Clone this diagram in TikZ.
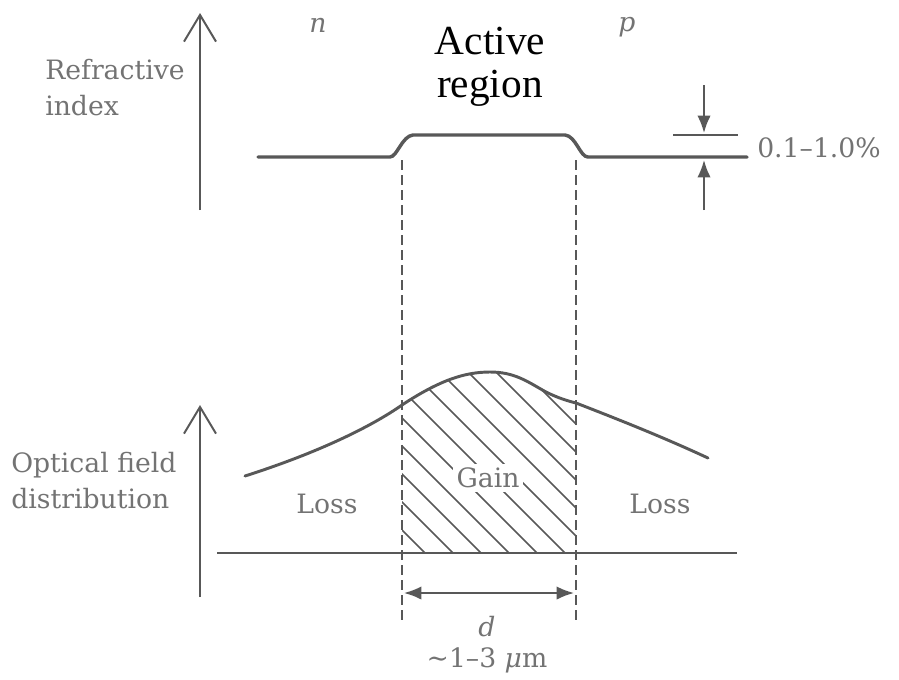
\documentclass[tikz,border=0pt]{standalone}
\usepackage{fontspec}
\setmainfont{DejaVu Serif}
\newfontfamily\activefont{Liberation Serif}
\usetikzlibrary{arrows.meta}
\definecolor{inkgray}{RGB}{88,88,88}
\definecolor{textgray}{RGB}{115,115,115}
\tikzset{
	axisarrow/.style={draw=inkgray, line width=1.5pt, -{Straight Barb[length=20pt,width=24pt,line width=1.5pt]}},
	profile/.style={draw=inkgray, line width=2.6pt, line join=round, line cap=round},
	fieldcurve/.style={draw=inkgray, line width=2.2pt, line cap=round},
	guide/.style={draw=inkgray, line width=1.4pt, dash pattern={on 7.5pt off 3.75pt}},
	hatchline/.style={draw=inkgray, line width=1.1pt},
	dimarrow/.style={draw=inkgray, line width=1.4pt, -{Latex[length=13pt,width=10pt]}},
	graylabel/.style={text=textgray, inner sep=0.75pt, font=\fontsize{20}{27}\selectfont},
}
\begin{document}
\begin{tikzpicture}[x=0.75pt,y=0.75pt,yscale=-1,xscale=1]
	\useasboundingbox (0,0) rectangle (899,679);
	%Points of the two axes
	\coordinate (riFoot) at (200,210);
	\coordinate (riTip) at (200,13);
	\coordinate (ofFoot) at (200,597);
	\coordinate (ofTip) at (200,405);
	%Straight Lines: axes
	\draw [axisarrow] (riFoot) -- (riTip);
	\draw [axisarrow] (ofFoot) -- (ofTip);
	%Curve Lines: refractive index step
	\draw [profile] (258,157) -- (390,157) .. controls (397,157) and (402,136) .. (413,135) -- (565,135) .. controls (576,136) and (580,157) .. (588,157) -- (747,157) ;
	%Straight Lines: edges of the active region
	\coordinate (edgeLtop) at (402,160);
	\coordinate (edgeLbot) at (402,624);
	\coordinate (edgeRtop) at (576,160);
	\coordinate (edgeRbot) at (576,624);
	\draw [guide] (edgeLtop) -- (edgeLbot) ;
	\draw [guide] (edgeRtop) -- (edgeRbot) ;
	%Straight Lines: index step marker
	\coordinate (tickL) at (673,135);
	\coordinate (tickR) at (738,135);
	\draw [hatchline, line width=1.4pt] (tickL) -- (tickR) ;
	\coordinate (downFrom) at (704,85);
	\coordinate (downTo) at (704,133);
	\coordinate (upFrom) at (704,210);
	\coordinate (upTo) at (704,160);
	\draw [dimarrow] (downFrom) -- (downTo) ;
	\draw [dimarrow] (upFrom) -- (upTo) ;
	%Straight Lines: zero line of the field
	\coordinate (zeroL) at (217,553);
	\coordinate (zeroR) at (737,553);
	\draw [hatchline, line width=1.3pt] (zeroL) -- (zeroR) ;
	%Hatching under the field, inside the active region
	\begin{scope}
		\clip (402,553) -- (402,405) .. controls (440,380) and (465,372) .. (490,372) .. controls (515,372) and (528,382) .. (546,392) .. controls (558,398) and (568,401) .. (576,403) -- (576,553) -- cycle ;
		\foreach \k in {-1,...,11}
			\draw [hatchline] ({435+28*\k},563) -- ({225+28*\k},353) ;
	\end{scope}
	%Curve Lines: optical field
	\draw [fieldcurve] (245,476) .. controls (320,452) and (372,426) .. (402,405) .. controls (440,380) and (465,372) .. (490,372) .. controls (515,372) and (528,382) .. (546,392) .. controls (558,398) and (568,401) .. (576,403) .. controls (620,420) and (665,438) .. (708,458) ;
	%Straight Lines: width of the active region
	\coordinate (dL) at (404,593);
	\coordinate (dR) at (574,593);
	\draw [dimarrow, <->, >={Latex[length=13pt,width=10pt]}] (dL) -- (dR) ;
	% Text Node
	\draw (44,88) node (riLabel) [graylabel, anchor=west, align=left] {Refractive\\index};
	% Text Node
	\draw (10,481) node (ofLabel) [graylabel, anchor=west, align=left] {Optical field\\distribution};
	% Text Node
	\draw (318,25) node (nSide) [graylabel] {\itshape n};
	% Text Node
	\draw (627,27) node (pSide) [graylabel] {\itshape p};
	% Text Node
	\draw (490,67) node (active) [inner sep=0.75pt, align=center, font=\activefont\fontsize{31}{32}\selectfont] {Active\\region};
	% Text Node
	\draw (756,148) node (step) [graylabel, anchor=west] {0.1--1.0\%};
	% Text Node
	\draw (488,478) node (gain) [graylabel, fill=white, inner sep=3pt] {Gain};
	% Text Node
	\draw (327,504) node (lossL) [graylabel] {Loss};
	% Text Node
	\draw (660,504) node (lossR) [graylabel] {Loss};
	% Text Node
	\draw (487,627) node (dLabel) [graylabel] {\itshape d};
	% Text Node
	\draw (487,660) node (dRange) [graylabel] {∼1--3 {\itshape μ}m};
\end{tikzpicture}
\end{document}
